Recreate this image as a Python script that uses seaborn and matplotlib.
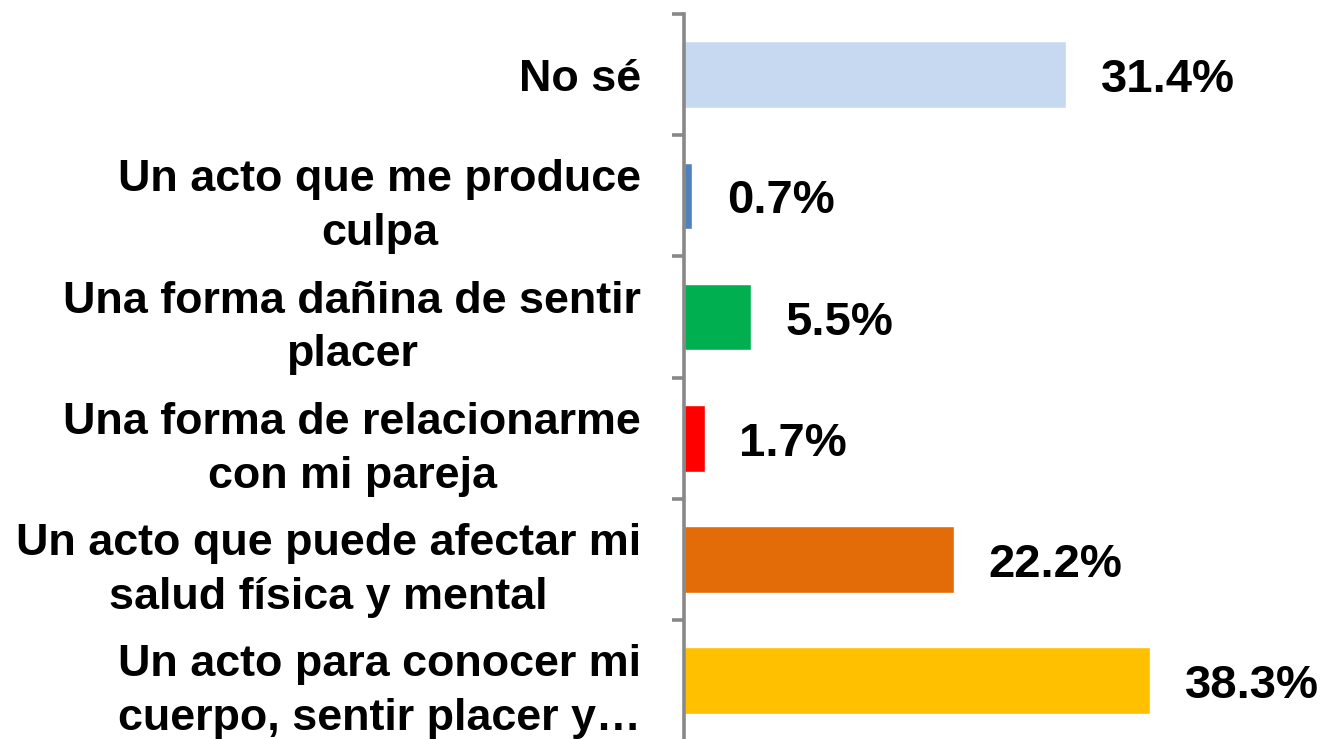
import matplotlib
matplotlib.use("Agg")
import matplotlib.pyplot as plt
import pandas as pd
import seaborn as sns

categories = [
    "No sé",
    "Un acto que me produce\nculpa",
    "Una forma dañina de sentir\nplacer",
    "Una forma de relacionarme\ncon mi pareja",
    "Un acto que puede afectar mi\nsalud física y mental",
    "Un acto para conocer mi\ncuerpo, sentir placer y…",
]
values = [31.4, 0.7, 5.5, 1.7, 22.2, 38.3]
colors = ["#C6D9F1", "#4F81BD", "#00B050", "#FF0000", "#E36C09", "#FFC000"]

df = pd.DataFrame({"categoria": categories, "pct": values})

sns.set_style("white")
plt.rcParams["font.family"] = ["Liberation Sans", "DejaVu Sans"]
plt.rcParams["font.weight"] = "bold"
plt.rcParams["text.color"] = "black"
plt.rcParams["ytick.labelcolor"] = "black"

fig = plt.figure(figsize=(13.24, 7.39), dpi=100)
ax = fig.add_axes([0.5166, -0.003, 0.4834, 0.984])

sns.barplot(
    data=df, x="pct", y="categoria", hue="categoria", palette=colors,
    legend=False, width=0.55, saturation=1, ax=ax,
)

ax.set_xlim(0, 52.6)
ax.set_ylim(len(categories) - 0.5, -0.5)
ax.set_xlabel("")
ax.set_ylabel("")
ax.set_xticks([])
ax.set_yticks([i - 0.5 for i in range(len(categories) + 1)], minor=False)
ax.set_yticklabels([])
ax.set_yticks(range(len(categories)), minor=True)
ax.set_yticklabels(categories, minor=True, fontsize=32.3, fontweight="bold",
                   multialignment="center", linespacing=1.4, color="black")
ax.tick_params(axis="y", which="major", length=8.5, width=2.6, color="#888888",
               direction="out", left=True)
ax.tick_params(axis="y", which="minor", length=0, pad=31)

for s in ["top", "right", "bottom"]:
    ax.spines[s].set_visible(False)
ax.spines["left"].set_color("#888888")
ax.spines["left"].set_linewidth(2.6)

for cont in ax.containers:
    labels = ax.bar_label(cont, fmt="%.1f%%", padding=25, fontsize=34,
                          fontweight="bold", color="black")
    for t in labels:
        t.set_va("center")
        t.xyann = (25, -4)

fig.savefig("out.png", dpi=100)
